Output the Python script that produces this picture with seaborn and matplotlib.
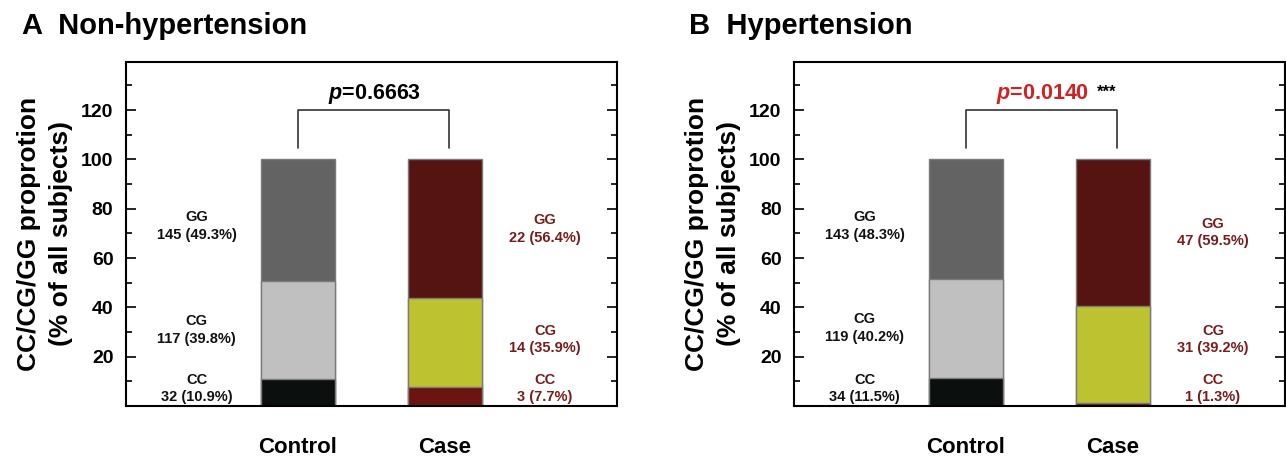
import numpy as np
import seaborn as sns
import matplotlib.pyplot as plt
from matplotlib.ticker import MultipleLocator

sns.set_style("white")
plt.rcParams['font.family'] = ['Liberation Sans', 'DejaVu Sans']
plt.rcParams['text.color'] = 'black'
plt.rcParams['axes.labelcolor'] = 'black'
plt.rcParams['xtick.color'] = 'black'
plt.rcParams['ytick.color'] = 'black'
plt.rcParams['mathtext.fontset'] = 'custom'
plt.rcParams['mathtext.it'] = 'Liberation Sans:italic:bold'
plt.rcParams['mathtext.rm'] = 'Liberation Sans:bold'

groups = ["Control", "Case"]
genotypes = ["CC", "CG", "GG"]

# non-hypertension
a_counts = {"Control": [32, 117, 145], "Case": [3, 14, 22]}
a_pct = {"Control": [10.9, 39.8, 49.3], "Case": [7.7, 35.9, 56.4]}
a_p = "0.6663"

# hypertension
b_counts = {"Control": [34, 119, 143], "Case": [1, 31, 47]}
b_pct = {"Control": [11.5, 40.2, 48.3], "Case": [1.3, 39.2, 59.5]}
b_p = "0.0140"

colors = {
    "Control": ["#0b0f0d", "#c0c0c0", "#636363"],
    "Case": ["#6c1410", "#bcc230", "#551312"],
}
text_colors = {"Control": "#111111", "Case": "#7a1c1c"}


def panel(ax, counts, pct, pval, sig):
    # stacked bars drawn from the top segment down
    for k in [2, 1, 0]:
        tops = [sum(pct[g][:k + 1]) for g in groups]
        if k == 2:
            tops = [100 for g in groups]
        sns.barplot(x=groups, y=tops, hue=groups,
                    palette=[colors[g][k] for g in groups], saturation=1,
                    width=0.5, edgecolor="#7a7a7a", linewidth=1.0,
                    legend=False, ax=ax)

    # segment labels beside the bars
    for i, g in enumerate(groups):
        xl = -0.69 if i == 0 else 1.68
        y_cc = 7
        c_cg = pct[g][0] + pct[g][1] / 2
        y_cg = max(c_cg, y_cc + 20)
        c_gg = 100 - pct[g][2] / 2
        y_gg = min(c_gg, 73)
        for k, yy in zip(range(3), [y_cc, y_cg, y_gg]):
            ax.text(xl, yy, f"{genotypes[k]}\n{counts[g][k]} ({pct[g][k]}%)",
                    ha="center", va="center", fontsize=10.5, fontweight="bold",
                    color=text_colors[g], linespacing=1.3)

    # bracket
    ax.plot([0, 0, 1.03, 1.03], [104.5, 120, 120, 104.5], color="#333333", lw=1.2)
    pcol = "#d42020" if sig else "black"
    ax.text(0.52, 124.5, "$p$=" + pval, ha="center", va="baseline",
            fontsize=15.5, fontweight="bold", color=pcol)
    if sig:
        ax.text(0.89, 125.5, sig, ha="left", va="baseline", fontsize=12,
                fontweight="bold", color="black")

    ax.set_xlim(-1.17, 2.17)
    ax.set_ylim(0, 139.5)
    ax.set_yticks([20, 40, 60, 80, 100, 120])
    ax.yaxis.set_minor_locator(MultipleLocator(10))
    ax.tick_params(axis="y", which="both", direction="in", left=True, right=True,
                   width=1.2, pad=9, labelsize=14)
    ax.tick_params(axis="y", which="major", length=7)
    ax.tick_params(axis="y", which="minor", length=4)
    ax.tick_params(axis="x", length=0, pad=22, labelsize=16)
    for lab in ax.get_xticklabels() + ax.get_yticklabels():
        lab.set_fontweight("bold")
    for s in ax.spines.values():
        s.set_visible(True)
        s.set_color("black")
        s.set_linewidth(1.5)
    ax.set_xlabel("")
    ax.set_ylabel("CC/CG/GG proprotion\n(% of all subjects)", fontsize=19,
                  fontweight="bold", labelpad=6, linespacing=1.4)


fig = plt.figure(figsize=(12.86, 4.58), dpi=100)
ax1 = fig.add_axes([126 / 1286, 1 - 406 / 458, 491 / 1286, 344 / 458])
ax2 = fig.add_axes([794 / 1286, 1 - 406 / 458, 491 / 1286, 344 / 458])

panel(ax1, a_counts, a_pct, a_p, None)
panel(ax2, b_counts, b_pct, b_p, "***")

fig.text(22 / 1286, 1 - 34 / 458, "A  Non-hypertension", fontsize=21,
         fontweight="bold", va="baseline")
fig.text(689 / 1286, 1 - 34 / 458, "B  Hypertension", fontsize=21,
         fontweight="bold", va="baseline")

fig.savefig("out.png", dpi=100)
